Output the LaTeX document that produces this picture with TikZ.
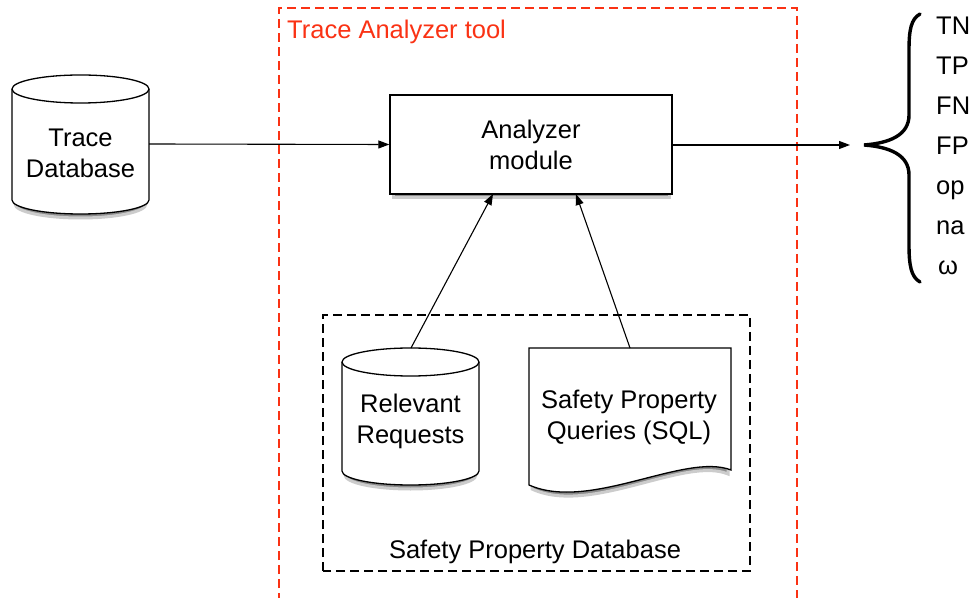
\documentclass[tikz,border=0pt]{standalone}
\usepackage{fontspec}
\setmainfont{Liberation Sans}
\usetikzlibrary{arrows.meta}
\begin{document}
\begin{tikzpicture}[x=1pt,y=1pt,
  txt/.style={font=\fontsize{25.5}{31}\selectfont, align=center, inner sep=0pt},
  shp/.style={draw=black, line width=1.3pt, fill=white},
  shd/.style={fill=black!45, draw=black!20, line width=3pt},
  conn/.style={draw=black, line width=1.1pt, -{Triangle[length=11pt,width=8pt]}},
  redbox/.style={draw=tred, line width=1.3pt, dash pattern=on 9pt off 5pt},
  blkbox/.style={draw=black, line width=1.3pt, dash pattern=on 9pt off 5pt}]
\useasboundingbox (0,0) rectangle (973,597);
\definecolor{tred}{RGB}{250,50,20}
% Trace Analyzer tool frame
\draw[redbox] (279,-5) -- (279,589) -- (797,589) -- (797,-5);
\node[txt, anchor=base west, text=tred] (tatl) at (287,558) {Trace Analyzer tool};
% Safety property database frame
\draw[blkbox] (323,26) rectangle (750,282);
\node[txt, anchor=base] (spdl) at (535,39) {Safety Property Database};
% Shadows
\path[shd] (15,504) -- (15,393) arc (180:360:65.5pt and 14pt) -- (146,504) -- cycle;
\path[shd] (345,231) -- (345,122) arc (180:360:65.5pt and 14pt) -- (476,231) -- cycle;
\path[shd] (532,245) -- (728,245) -- (728,123) .. controls (685,141) and (590,81) .. (532,108) -- cycle;
\path[shd] (393,498) rectangle (669,399);
% Trace Database cylinder
\path[shp] (12,508) -- (12,397) arc (180:360:68.5pt and 14pt) -- (149,508) arc (0:180:68.5pt and 14pt) -- cycle;
\draw[line width=1.3pt] (12,508) arc (180:360:68.5pt and 14pt);
\node[txt] (tdb) at (80.5,444) {Trace\\Database};
\coordinate (tdbR) at (149,453);
% Analyzer module
\node[shp, txt, minimum width=282pt, minimum height=99pt, inner sep=0pt] (am) at (531,452.5) {Analyzer\\module};
% Relevant Requests cylinder
\path[shp] (342,235) -- (342,126) arc (180:360:68.5pt and 14pt) -- (479,235) arc (0:180:68.5pt and 14pt) -- cycle;
\draw[line width=1.3pt] (342,235) arc (180:360:68.5pt and 14pt);
\node[txt] (rr) at (410.5,176) {Relevant\\Requests};
\coordinate (rrT) at (411,249);
% Document
\path[shp] (529,249) -- (731,249) -- (731,127) .. controls (685,145) and (590,85) .. (529,112) -- cycle;
\node[txt] (spq) at (629,180) {Safety Property\\Queries (SQL)};
\coordinate (spqT) at (630,249);
% Connectors
\draw[conn] (tdbR) -- (am.west);
\coordinate (outE) at (850,452);
\draw[conn] (am.east |- outE) -- (outE);
\coordinate (amB1) at (493,403);
\coordinate (amB2) at (576,403);
\draw[conn] (rrT) -- (amB1);
\draw[conn] (spqT) -- (amB2);
% Brace
\draw[line width=3.4pt, line cap=round] (920,583) .. controls (911,578) and (909,567) .. (909,547) -- (909,482) .. controls (909,462) and (890,454) .. (864,452) .. controls (890,450) and (909,442) .. (909,422) -- (909,352) .. controls (909,332) and (911,320) .. (920,315);
% Labels
\node[txt, anchor=base west] (tn) at (936,562) {TN};
\node[txt, anchor=base west] (tp) at (936,522) {TP};
\node[txt, anchor=base west] (fn) at (936,482) {FN};
\node[txt, anchor=base west] (fp) at (936,442) {FP};
\node[txt, anchor=base west] (op) at (936,402) {op};
\node[txt, anchor=base west] (na) at (936,362) {na};
\node[txt, anchor=base west] (om) at (938,322) {ω};
\end{tikzpicture}
\end{document}
